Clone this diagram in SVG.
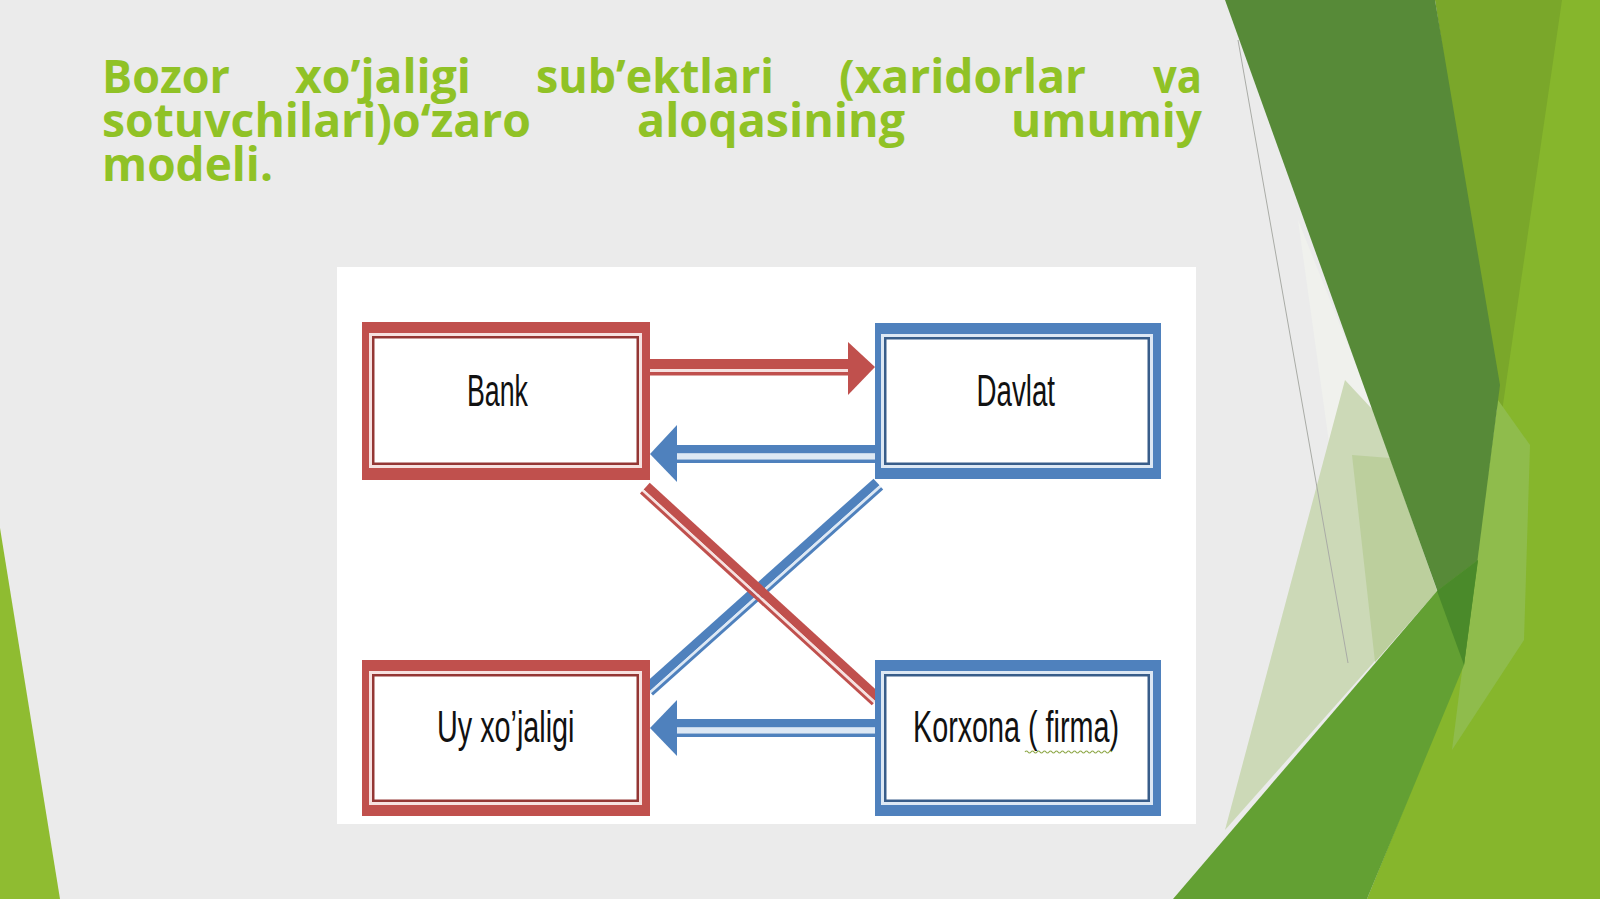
<svg xmlns="http://www.w3.org/2000/svg" width="1600" height="899" viewBox="0 0 1600 899">
  <defs>
    <style>
      .title { font-family: "Open Sans", "Noto Sans", "Liberation Sans", sans-serif; font-weight: bold; font-size: 46px; fill: #90c226; }
      .lbl { font-family: "Liberation Sans", Arial, sans-serif; font-size: 45px; fill: #111111; }
      .rOut { fill: #c0504d; }
      .rLight { fill: #f6e1e0; }
      .rThin { fill: #943634; }
      .bOut { fill: #4f81bd; }
      .bLight { fill: #dde8f4; }
      .bThin { fill: #385d8a; }
      .inner { fill: #ffffff; }
    </style>
  </defs>

  <!-- background -->
  <rect x="0" y="0" width="1600" height="899" fill="#ebebeb"/>

  <!-- decorative theme shapes -->
  <g id="decor">
    <polygon points="0,528 60,899 0,899" fill="#8fbc31"/>
    <polygon points="1367,899 1463,663 1500,385 1560,0 1600,0 1600,899" fill="#86b62c"/>
    <polygon points="1435,0 1562,0 1500,425" fill="#7aa72a"/>
    <polygon points="1498,400 1530,445 1524,640 1452,750 1463,663" fill="#8fbc4c"/>
    <polygon points="1298,220 1362,380 1387,450 1337,500" fill="#f0f1ed"/>
    <polygon points="1345,380 1373,410 1437,591 1225,830" fill="#ccd9b7"/>
    <polygon points="1352,455 1390,458 1437,591 1375,662" fill="#bccf9d"/>
    <polygon points="1225,0 1435,0 1500,385 1464,665" fill="#578a38"/>
    <polygon points="1173,899 1437,591 1478,560 1464,665 1367,899" fill="#63a033"/>
    <polygon points="1437,591 1478,560 1464,665" fill="#4a8a2a"/>
    <line x1="1238" y1="40" x2="1348" y2="663" stroke="#a9aba6" stroke-width="1"/>
  </g>

  <!-- title -->
  <g id="title" class="title">
    <text x="102" y="92.5" textLength="128" lengthAdjust="spacingAndGlyphs">Bozor</text>
    <text x="295" y="92.5" textLength="176" lengthAdjust="spacingAndGlyphs">xo’jaligi</text>
    <text x="536" y="92.5" textLength="238" lengthAdjust="spacingAndGlyphs">sub’ektlari</text>
    <text x="839" y="92.5" textLength="247" lengthAdjust="spacingAndGlyphs">(xaridorlar</text>
    <text x="1153" y="92.5" textLength="49" lengthAdjust="spacingAndGlyphs">va</text>
    <text x="102" y="137" textLength="429" lengthAdjust="spacingAndGlyphs">sotuvchilari)o‘zaro</text>
    <text x="637" y="137" textLength="268" lengthAdjust="spacingAndGlyphs">aloqasining</text>
    <text x="1011" y="137" textLength="191" lengthAdjust="spacingAndGlyphs">umumiy</text>
    <text x="102" y="181" textLength="171" lengthAdjust="spacingAndGlyphs">modeli.</text>
  </g>

  <!-- white panel -->
  <rect id="panel" x="337" y="267" width="859" height="557" fill="#ffffff"/>

  <!-- connectors -->
  <g id="connectors">
    <!-- Davlat -> Uy xo'jaligi (blue diagonal) -->
    <g transform="translate(648,690) rotate(-41.85)">
      <rect x="0" y="-7" width="309" height="9" class="bOut"/>
      <rect x="0" y="2" width="309" height="2.5" class="bLight"/>
      <rect x="0" y="4.5" width="309" height="3" class="bOut"/>
    </g>
    <!-- Bank -> Korxona (red diagonal) -->
    <g transform="translate(645,488) rotate(42.42)">
      <rect x="0" y="-7" width="314" height="9" class="rOut"/>
      <rect x="0" y="2" width="314" height="2.5" class="rLight"/>
      <rect x="0" y="4.5" width="314" height="3" class="rOut"/>
    </g>
    <!-- Bank -> Davlat -->
    <g id="arrow-bank-davlat">
      <rect x="649" y="359" width="200" height="10" class="rOut"/>
      <rect x="649" y="369" width="200" height="3" class="rLight"/>
      <rect x="649" y="372" width="200" height="3.5" class="rOut"/>
      <polygon points="848,342 875,367 848,395" class="rOut"/>
    </g>
    <!-- Davlat -> Bank -->
    <g id="arrow-davlat-bank">
      <rect x="676" y="445" width="199" height="8.5" class="bOut"/>
      <rect x="676" y="453.5" width="199" height="6" class="bLight"/>
      <rect x="676" y="459.5" width="199" height="3.5" class="bOut"/>
      <polygon points="677,425 650,454 677,482" class="bOut"/>
    </g>
    <!-- Korxona -> Uy xo'jaligi -->
    <g id="arrow-korxona-uy">
      <rect x="676" y="719" width="199" height="8.5" class="bOut"/>
      <rect x="676" y="727.5" width="199" height="6" class="bLight"/>
      <rect x="676" y="733.5" width="199" height="3.5" class="bOut"/>
      <polygon points="677,700 650,728 677,756" class="bOut"/>
    </g>
  </g>

  <!-- nodes -->
  <g id="bank" transform="translate(362,322)">
    <rect x="0" y="0" width="288" height="158" class="rOut"/>
    <rect x="7" y="11" width="273" height="135" class="rLight"/>
    <rect x="10" y="14" width="267" height="129" class="rThin"/>
    <rect x="12.5" y="16.5" width="262" height="124" class="inner"/>
    <text x="105" y="84" class="lbl" textLength="61" lengthAdjust="spacingAndGlyphs">Bank</text>
  </g>
  <g id="davlat" transform="translate(875,323)">
    <rect x="0" y="0" width="286" height="156" class="bOut"/>
    <rect x="6" y="11" width="272" height="134" class="bLight"/>
    <rect x="9" y="14" width="266" height="128" class="bThin"/>
    <rect x="11.5" y="16.5" width="261" height="123" class="inner"/>
    <text x="101.5" y="83" class="lbl" textLength="78.5" lengthAdjust="spacingAndGlyphs">Davlat</text>
  </g>
  <g id="uy" transform="translate(362,660)">
    <rect x="0" y="0" width="288" height="156" class="rOut"/>
    <rect x="7" y="11" width="273" height="134" class="rLight"/>
    <rect x="10" y="14" width="267" height="128" class="rThin"/>
    <rect x="12.5" y="16.5" width="262" height="123" class="inner"/>
    <text x="75" y="82" class="lbl" textLength="137.5" lengthAdjust="spacingAndGlyphs">Uy xo’jaligi</text>
  </g>
  <g id="korxona" transform="translate(875,660)">
    <rect x="0" y="0" width="286" height="156" class="bOut"/>
    <rect x="6" y="11" width="272" height="134" class="bLight"/>
    <rect x="9" y="14" width="266" height="128" class="bThin"/>
    <rect x="11.5" y="16.5" width="261" height="123" class="inner"/>
    <text x="38" y="82" class="lbl" textLength="206" lengthAdjust="spacingAndGlyphs">Korxona ( firma)</text>
    <path d="M150,92 q1.5,-2 3,0 t3,0 t3,0 t3,0 t3,0 t3,0 t3,0 t3,0 t3,0 t3,0 t3,0 t3,0 t3,0 t3,0 t3,0 t3,0 t3,0 t3,0 t3,0 t3,0 t3,0 t3,0 t3,0 t3,0 t3,0 t3,0 t3,0 t3,0 t3,0" fill="none" stroke="#8fa84a" stroke-width="1.2"/>
  </g>
</svg>
